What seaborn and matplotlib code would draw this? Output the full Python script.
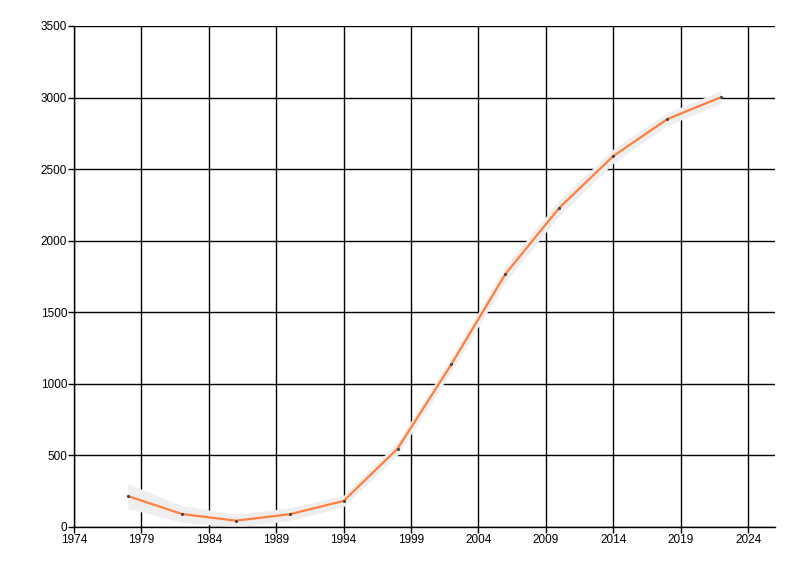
import pandas as pd
import matplotlib
matplotlib.use("Agg")
import matplotlib.pyplot as plt
import seaborn as sns

# Data
years = [1978, 1982, 1986, 1990, 1994, 1998, 2002, 2006, 2010, 2014, 2018, 2022]
values = [216, 91, 44, 89, 182, 547, 1138, 1767, 2230, 2591, 2849, 3003]
# half-width of the light grey band around each point
spread = [87, 58, 45, 45, 40, 45, 50, 55, 55, 50, 45, 45]

x_ticks = [1974, 1979, 1984, 1989, 1994, 1999, 2004, 2009, 2014, 2019, 2024]
y_ticks = [0, 500, 1000, 1500, 2000, 2500, 3000, 3500]

df = pd.DataFrame({"Year": years, "Value": values, "Spread": spread})
df["Lower"] = df["Value"] - df["Spread"]
df["Upper"] = df["Value"] + df["Spread"]

sns.set_style("white")
plt.rcParams["font.family"] = ["Liberation Sans", "DejaVu Sans"]

fig = plt.figure(figsize=(8, 5.76), dpi=100)
ax = fig.add_axes([0.0925, 0.0851, 0.8763, 0.8698])

ax.fill_between(df["Year"], df["Lower"], df["Upper"], color="#eeeeee", linewidth=0, zorder=2)
sns.lineplot(data=df, x="Year", y="Value", ax=ax, color="#ff7f3f", linewidth=1.6, zorder=3)
sns.scatterplot(data=df, x="Year", y="Value", ax=ax, color="#444444", s=5, linewidth=0, zorder=4)

ax.set_xlim(1974, 2026)
ax.set_ylim(0, 3500)
ax.set_xticks(x_ticks)
ax.set_yticks(y_ticks)
ax.set_xlabel("")
ax.set_ylabel("")

ax.grid(True, color="black", linewidth=1.0, zorder=1)
ax.set_axisbelow(True)
for side in ["top", "right"]:
    ax.spines[side].set_visible(False)
for side in ["left", "bottom"]:
    ax.spines[side].set_color("black")
    ax.spines[side].set_linewidth(1.0)

ax.tick_params(axis="both", which="major", direction="out", length=4, width=1,
               color="black", labelsize=8.5, labelcolor="black", pad=1,
               bottom=True, left=True)

fig.savefig("out.png", dpi=100)
